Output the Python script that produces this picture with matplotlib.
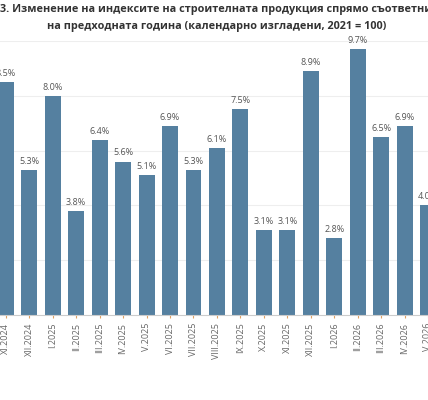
import matplotlib.pyplot as plt

months = ['XI.2024', 'XII.2024', 'I.2025', 'II.2025', 'III.2025', 'IV.2025', 'V.2025',
          'VI.2025', 'VII.2025', 'VIII.2025', 'IX.2025', 'X.2025', 'XI.2025', 'XII.2025',
          'I.2026', 'II.2026', 'III.2026', 'IV.2026', 'V.2026']
values = [8.5, 5.3, 8.0, 3.8, 6.4, 5.6, 5.1, 6.9, 5.3, 6.1, 7.5, 3.1, 3.1, 8.9,
          2.8, 9.7, 6.5, 6.9, 4.0]

plt.rcParams['font.family'] = ['Open Sans', 'DejaVu Sans']
fig = plt.figure(figsize=(4.28, 4.0), dpi=100)
ax = fig.add_axes([0, 0.2125, 1, 0.685])
x = range(len(values))
ax.bar(x, values, width=0.68, color='#5580a0', zorder=2)
for i, v in zip(x, values):
    ax.text(i, v + 0.15, f'{v:.1f}%', ha='center', va='bottom', fontsize=6.5, color='#555555')
ax.set_xlim(-0.25, 17.8)
ax.set_ylim(0, 10)
ax.set_yticks([2, 4, 6, 8, 10])
ax.grid(axis='y', color='#eeeeee', lw=0.8, zorder=0)
ax.tick_params(axis='y', left=False, labelleft=False)
ax.set_xticks(list(x))
ax.set_xticklabels(months, rotation=90, fontsize=6.5, color='#666666')
ax.tick_params(axis='x', length=2, color='#e0a060')
for s in ['top', 'right', 'left']:
    ax.spines[s].set_visible(False)
ax.spines['bottom'].set_color('#cccccc')
fig.text(0.0, 0.99, '3. Изменение на индексите на строителната продукция спрямо съответния месец',
         ha='left', va='top', fontsize=7.8, fontweight='bold', color='#333333')
fig.text(0.505, 0.948, 'на предходната година (календарно изгладени, 2021 = 100)',
         ha='center', va='top', fontsize=7.8, fontweight='bold', color='#333333')
fig.savefig('out.png', dpi=100)
